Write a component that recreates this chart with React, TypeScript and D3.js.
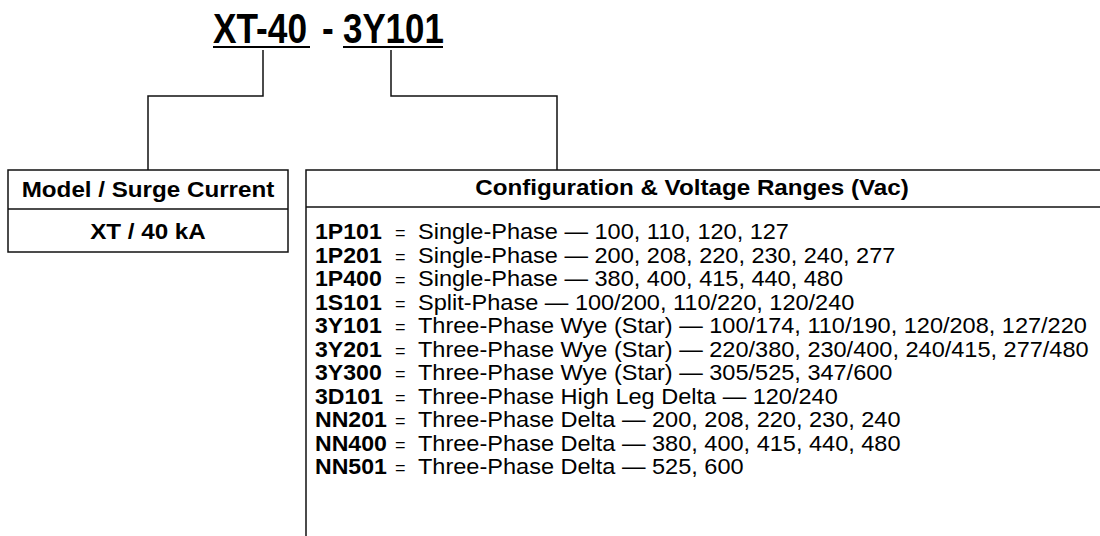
import { useEffect } from 'react'
import * as d3 from 'd3'

// Part number pieces shown at the top
const MODEL_PART = 'XT-40'
const CONFIG_PART = '3Y101'

const LEFT_HEADER = 'Model / Surge Current'
const LEFT_VALUE = 'XT / 40 kA'
const RIGHT_HEADER = 'Configuration & Voltage Ranges (Vac)'

const CODES = [
  '1P101', '1P201', '1P400', '1S101', '3Y101', '3Y201',
  '3Y300', '3D101', 'NN201', 'NN400', 'NN501',
]

const DESCRIPTIONS = [
  'Single-Phase — 100, 110, 120, 127',
  'Single-Phase — 200, 208, 220, 230, 240, 277',
  'Single-Phase — 380, 400, 415, 440, 480',
  'Split-Phase — 100/200, 110/220, 120/240',
  'Three-Phase Wye (Star) — 100/174, 110/190, 120/208, 127/220',
  'Three-Phase Wye (Star) — 220/380, 230/400, 240/415, 277/480',
  'Three-Phase Wye (Star) — 305/525, 347/600',
  'Three-Phase High Leg Delta — 120/240',
  'Three-Phase Delta — 200, 208, 220, 230, 240',
  'Three-Phase Delta — 380, 400, 415, 440, 480',
  'Three-Phase Delta — 525, 600',
]

const W = 1100
const H = 536
const FONT = '"Liberation Sans", Arial, Helvetica, sans-serif'
const INK = '#111'
const STRETCH = 1.1 // the source headers are a little wider than Arial
const ROW_STRETCH = 1.07

export default function App() {
  useEffect(() => {
    document.body.style.margin = '0'
  }, [])

  // baseline of each configuration row
  const rowY = d3
    .scaleLinear()
    .domain([0, CODES.length - 1])
    .range([239, 474])

  // left box / right box geometry
  const left = { x: 8, y: 170, w: 280, headH: 39, h: 82 }
  const right = { x: 306, y: 170, w: 820, headH: 37, h: 400 }

  const leftCx = left.x + left.w / 2
  const rightHeadCx = 692

  const connector = (pts: Array<[number, number]>) => d3.line()(pts) as string
  const at = (x: number, y: number, sx = STRETCH) => `translate(${x},${y}) scale(${sx},1)`

  return (
    <svg width={W} height={H} style={{ display: 'block', background: '#fff' }} fontFamily={FONT}>
      {/* title */}
      <g fill="#000" fontWeight="bold" fontSize={42}>
        <text transform={at(213, 43, 0.84)}>{MODEL_PART}</text>
        <text transform={at(322, 43, 0.84)}>-</text>
        <text transform={at(343, 43, 0.83)}>{CONFIG_PART}</text>
      </g>
      <line x1={213} x2={310} y1={47} y2={47} stroke="#000" strokeWidth={2} />
      <line x1={343} x2={443} y1={47} y2={47} stroke="#000" strokeWidth={2} />

      {/* connectors */}
      <g fill="none" stroke={INK} strokeWidth={1.5}>
        <path d={connector([[263, 50], [263, 96], [148, 96], [148, left.y]])} />
        <path d={connector([[391, 50], [391, 96], [557, 96], [557, right.y]])} />
      </g>

      {/* left box */}
      <g stroke={INK} strokeWidth={1.5} fill="none">
        <rect x={left.x} y={left.y} width={left.w} height={left.h} />
        <line x1={left.x} x2={left.x + left.w} y1={left.y + left.headH} y2={left.y + left.headH} />
      </g>
      <text transform={at(leftCx, 197)} textAnchor="middle" fontWeight="bold" fontSize={22} fill="#000">
        {LEFT_HEADER}
      </text>
      <text transform={at(leftCx, 239)} textAnchor="middle" fontWeight="bold" fontSize={22} fill="#000">
        {LEFT_VALUE}
      </text>

      {/* right box */}
      <g stroke={INK} strokeWidth={1.5} fill="none">
        <rect x={right.x} y={right.y} width={right.w} height={right.h} />
        <line x1={right.x} x2={right.x + right.w} y1={right.y + right.headH} y2={right.y + right.headH} />
      </g>
      <text transform={at(rightHeadCx, 195)} textAnchor="middle" fontWeight="bold" fontSize={22} fill="#000">
        {RIGHT_HEADER}
      </text>

      {CODES.map((code, i) => (
        <g key={code} fill="#000" fontSize={22}>
          <text transform={at(315, rowY(i), 1.05)} fontWeight="bold">{code}</text>
          <text transform={at(395, rowY(i), 1)} fontSize={18}>=</text>
          <text transform={at(418, rowY(i), ROW_STRETCH)}>{DESCRIPTIONS[i]}</text>
        </g>
      ))}
    </svg>
  )
}
